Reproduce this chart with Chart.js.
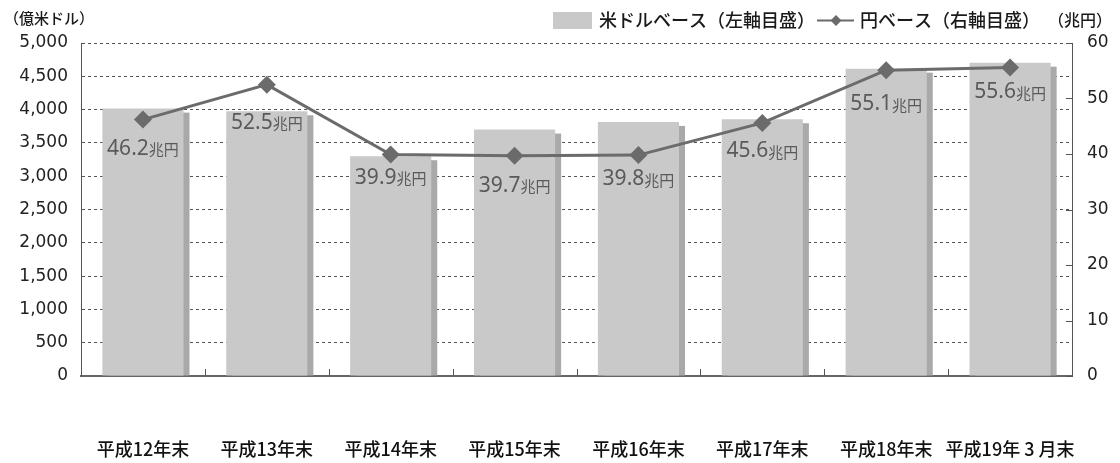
<!DOCTYPE html>
<html><head><meta charset="utf-8">
<script src="https://cdn.jsdelivr.net/npm/chart.js@4/dist/chart.umd.min.js"></script>
<style>html,body{margin:0;padding:0;background:#fff}#wrap{width:1120px;height:463px;position:relative}</style>
</head><body><div id="wrap"><canvas id="c" width="1120" height="463"></canvas></div>
<script>
const categories = ['平成12年末','平成13年末','平成14年末','平成15年末','平成16年末','平成17年末','平成18年末','平成19年 3 月末'];
const usdValues = [4015, 3975, 3300, 3700, 3815, 3855, 4615, 4705];
const yenValues = [46.2, 52.5, 39.9, 39.7, 39.8, 45.6, 55.1, 55.6];
const leftTickValues = [0, 500, 1000, 1500, 2000, 2500, 3000, 3500, 4000, 4500, 5000];
const rightTickValues = [0, 10, 20, 30, 40, 50, 60];
const usdLabel = '米ドルベース（左軸目盛）';
const yenLabel = '円ベース（右軸目盛）';
const leftUnit = '（億米ドル）';
const rightUnit = '（兆円）';
const valueUnit = '兆円';

const NUMF = '"DejaVu Sans", sans-serif';
const JPF = '"Noto Sans CJK JP", sans-serif';
const LBLF = '"Noto Sans", sans-serif';
const labelDy = [29, 38, 23, 30, 24, 28, 34, 25];

const decor = {
  id: 'decor',
  beforeDatasetsDraw(chart) {
    const ctx = chart.ctx;
    const meta = chart.getDatasetMeta(1);
    ctx.save();
    ctx.fillStyle = '#a9a9a9';
    meta.data.forEach(el => {
      const p = el.getProps(['x', 'y', 'width', 'base'], true);
      ctx.fillRect(p.x - p.width / 2 + 6, p.y + 4, p.width, p.base - p.y - 4);
    });
    ctx.restore();
  },
  afterDatasetsDraw(chart) {
    const ctx = chart.ctx;
    const meta = chart.getDatasetMeta(0);
    ctx.save();
    ctx.fillStyle = '#5a5a5a';
    ctx.textBaseline = 'middle';
    ctx.textAlign = 'left';
    meta.data.forEach((el, i) => {
      const num = yenValues[i].toFixed(1);
      ctx.font = '21px ' + LBLF;
      const w1 = ctx.measureText(num).width;
      ctx.font = '15px ' + JPF;
      const w2 = ctx.measureText(valueUnit).width;
      const x0 = el.x - (w1 + w2) / 2;
      const cy = el.y + labelDy[i];
      ctx.font = '21px ' + LBLF;
      ctx.fillText(num, x0, cy);
      ctx.font = '15px ' + JPF;
      ctx.fillText(valueUnit, x0 + w1, cy + 1);
    });
    ctx.restore();
  },
  afterDraw(chart) {
    const ctx = chart.ctx;
    const ca = chart.chartArea;
    const x = chart.scales.x, y1 = chart.scales.y1;
    ctx.save();
    ctx.strokeStyle = '#555';
    ctx.lineWidth = 1;
    rightTickValues.forEach(v => {
      const py = Math.round(y1.getPixelForValue(v)) + 0.5;
      ctx.beginPath(); ctx.moveTo(ca.right - 6, py); ctx.lineTo(ca.right, py); ctx.stroke();
    });
    for (let i = 1; i < categories.length; i++) {
      const px = Math.round((x.getPixelForValue(i - 1) + x.getPixelForValue(i)) / 2) + 0.5;
      ctx.beginPath(); ctx.moveTo(px, ca.bottom - 7); ctx.lineTo(px, ca.bottom); ctx.stroke();
    }
    ctx.fillStyle = '#1a1a1a';
    ctx.textBaseline = 'middle';
    ctx.textAlign = 'left';
    ctx.font = '500 15px ' + JPF;
    ctx.fillText(leftUnit, 4, 18);
    ctx.font = '500 16px ' + JPF;
    ctx.fillText(rightUnit, 1048, 20);
    ctx.fillStyle = '#c9c9c9';
    ctx.fillRect(553, 12, 39, 17);
    ctx.fillStyle = '#1a1a1a';
    ctx.font = '500 18px ' + JPF;
    ctx.fillText(usdLabel, 599, 20);
    ctx.strokeStyle = '#6b6b6b';
    ctx.lineWidth = 2;
    ctx.beginPath(); ctx.moveTo(817, 20.5); ctx.lineTo(854, 20.5); ctx.stroke();
    ctx.fillStyle = '#6b6b6b';
    ctx.beginPath();
    ctx.moveTo(836, 15); ctx.lineTo(841.5, 20.5); ctx.lineTo(836, 26); ctx.lineTo(830.5, 20.5); ctx.closePath(); ctx.fill();
    ctx.fillStyle = '#1a1a1a';
    ctx.fillText(yenLabel, 860, 20);
    ctx.restore();
  }
};

new Chart(document.getElementById('c'), {
  data: {
    labels: categories,
    datasets: [
      {
        type: 'line', label: yenLabel, data: yenValues, yAxisID: 'y1', order: 0,
        borderColor: '#6b6b6b', borderWidth: 3, tension: 0,
        pointStyle: 'rectRot', pointRadius: 9, pointBackgroundColor: '#6b6b6b', pointBorderWidth: 0
      },
      {
        type: 'bar', label: usdLabel, data: usdValues, yAxisID: 'y', order: 1,
        backgroundColor: '#c9c9c9', categoryPercentage: 1, barPercentage: 0.655
      }
    ]
  },
  options: {
    responsive: false, animation: false, devicePixelRatio: 1,
    layout: { padding: { top: 43, left: 0, right: 0, bottom: 0 } },
    plugins: { legend: { display: false }, tooltip: { enabled: false } },
    scales: {
      x: {
        type: 'category', offset: true,
        grid: { display: false, drawTicks: false },
        border: { display: true, color: '#666', width: 2 },
        ticks: { font: { family: JPF, size: 18, weight: '500' }, color: '#111', padding: 62, maxRotation: 0, autoSkip: false },
        afterFit(s) { s.height = 87; s.paddingLeft = 0; s.paddingRight = 0; }
      },
      y: {
        position: 'left', min: 0, max: 5000,
        afterBuildTicks(s) { s.ticks = leftTickValues.map(v => ({ value: v })); },
        ticks: { font: { family: NUMF, size: 17 }, color: '#222', padding: 13,
          callback: v => v.toString().replace(/\B(?=(\d{3})+(?!\d))/g, ',') },
        grid: { drawTicks: false, color: c => (c.tick && c.tick.value === 0) ? 'rgba(0,0,0,0)' : '#555', lineWidth: 1 },
        border: { display: true, color: '#555', width: 1, dash: [3, 3] },
        afterFit(s) { s.width = 81; s.paddingTop = 0; s.paddingBottom = 0; }
      },
      y1: {
        position: 'right', min: 0, max: 60,
        afterBuildTicks(s) { s.ticks = rightTickValues.map(v => ({ value: v })); },
        ticks: { font: { family: NUMF, size: 17 }, color: '#222', padding: 15 },
        grid: { drawOnChartArea: false, drawTicks: false },
        border: { display: true, color: '#555', width: 1 },
        afterFit(s) { s.width = 48; s.paddingTop = 0; s.paddingBottom = 0; }
      }
    }
  },
  plugins: [decor]
});
</script>
</body></html>
